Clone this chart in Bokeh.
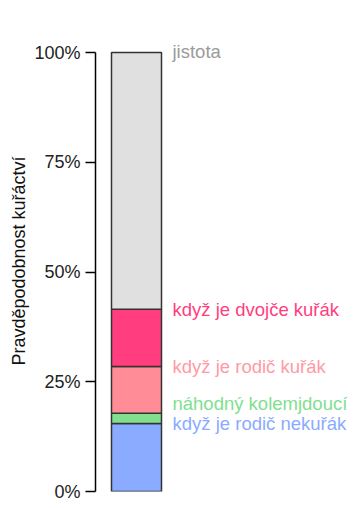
from bokeh.plotting import figure
from bokeh.models import Range1d, FixedTicker, ColumnDataSource, LabelSet
from bokeh.core.properties import value
from bokeh.embed import file_html
from bokeh.resources import INLINE

# Data (cumulative probability, %)
labels = ["když je rodič nekuřák", "náhodný kolemjdoucí", "když je rodič kuřák",
          "když je dvojče kuřák", "jistota"]
tops = [15.5, 17.8, 28.5, 41.5, 100.0]
tick_values = [0, 25, 50, 75, 100]
tick_labels = ["0%", "25%", "50%", "75%", "100%"]

# Styles
fill_colors = ["#8AABFF", "#80E08F", "#FF8C96", "#FF3D7F", "#E0E0E0"]
text_colors = ["#8AABFF", "#80E08F", "#FF9AA6", "#FF3D7F", "#9A9A9A"]
label_dy = [0, 10, 0, 0, 1]
FONT = "Liberation Sans"

bottoms = [0.0] + tops[:-1]

# frame: 0% at y=491 px, 100% at y=52 px; extra headroom above for the top label
TOP_PX, BOTTOM_PX, H = 30, 17, 508
y_max = 100.0 * (H - TOP_PX - BOTTOM_PX) / (H - 52 - BOTTOM_PX)

p = figure(width=356, height=H, output_backend="svg", toolbar_location=None,
           x_range=Range1d(-0.82, 4.40), y_range=Range1d(0, y_max),
           min_border_left=95, min_border_right=0, min_border_top=TOP_PX,
           min_border_bottom=BOTTOM_PX)
p.outline_line_color = None
p.background_fill_color = "white"
p.border_fill_color = "white"
p.xgrid.visible = False
p.ygrid.visible = False
p.xaxis.visible = False

src = ColumnDataSource(dict(x=[0] * len(tops), bottom=bottoms, top=tops,
                            fill=fill_colors, label=labels, tcol=text_colors,
                            dy=label_dy, lx=[0.5] * len(tops)))
p.vbar(x="x", width=1, bottom="bottom", top="top", fill_color="fill",
       line_color="#333333", line_width=1.5, source=src)
ls = LabelSet(x="lx", y="top", text="label", text_color="tcol", x_offset=11,
              y_offset="dy", text_align="left", text_baseline="middle",
              text_font=value(FONT), text_font_size=value("18.5px"), source=src)
p.add_layout(ls)

ax = p.yaxis[0]
ax.bounds = (tick_values[0], tick_values[-1])
ax.ticker = FixedTicker(ticks=tick_values)
ax.major_label_overrides = {v: l for v, l in zip(tick_values, tick_labels)}
ax.minor_tick_line_color = None
ax.major_tick_out = 10
ax.major_tick_in = 0
ax.major_label_standoff = 5
ax.axis_line_color = "black"
ax.axis_line_width = 1.5
ax.major_tick_line_color = "black"
ax.major_tick_line_width = 1.5
ax.major_label_text_font = FONT
ax.major_label_text_font_size = "18px"
ax.major_label_text_color = "#222222"
ax.axis_label = "Pravděpodobnost kuřáctví"
ax.axis_label_text_font = FONT
ax.axis_label_text_font_size = "18px"
ax.axis_label_text_font_style = "normal"
ax.axis_label_text_color = "#111111"
ax.axis_label_standoff = 2

open("out.html", "w").write(file_html(p, INLINE))
